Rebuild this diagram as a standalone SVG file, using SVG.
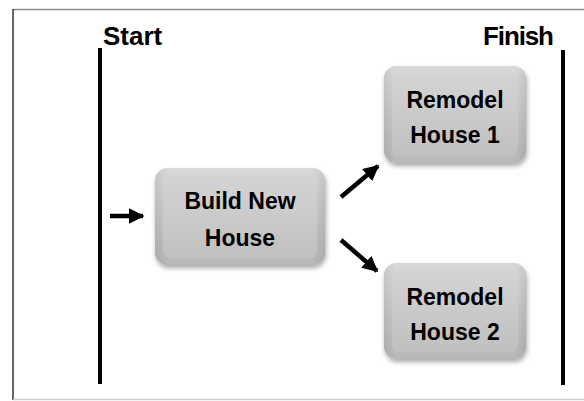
<svg xmlns="http://www.w3.org/2000/svg" width="584" height="401" viewBox="0 0 584 401">
  <defs>
    <linearGradient id="boxFill" x1="0" y1="0" x2="0" y2="1">
      <stop offset="0" stop-color="#e2e2e2"/>
      <stop offset="0.5" stop-color="#c6c6c6"/>
      <stop offset="1" stop-color="#acacac"/>
    </linearGradient>
    <linearGradient id="bevel" x1="0" y1="0" x2="1" y2="0">
      <stop offset="0" stop-color="#a6a6a6"/>
      <stop offset="0.08" stop-color="#cbcbcb"/>
      <stop offset="0.92" stop-color="#cbcbcb"/>
      <stop offset="1" stop-color="#a2a2a2"/>
    </linearGradient>
    <linearGradient id="face" x1="0" y1="0" x2="0" y2="1">
      <stop offset="0" stop-color="#d4d4d4"/>
      <stop offset="1" stop-color="#c0c0c0"/>
    </linearGradient>
    <filter id="shadow" x="-10%" y="-10%" width="125%" height="130%">
      <feDropShadow dx="1" dy="3" stdDeviation="2.5" flood-color="#000" flood-opacity="0.35"/>
    </filter>
    <marker id="head" viewBox="0 0 10 10" refX="9" refY="5" markerWidth="3.5" markerHeight="3.5" orient="auto" markerUnits="strokeWidth">
      <path d="M0,0 L10,5 L0,10 Z" fill="#000"/>
    </marker>
  </defs>
  <style>
    .lbl { font-family: "Liberation Sans", Arial, sans-serif; font-weight: bold; fill: #000; }
    .node-text { font-size: 23px; text-anchor: middle; }
    .title { font-size: 26px; }
    .bar { stroke: #000; stroke-width: 4; }
    .conn { stroke: #000; stroke-width: 4.5; fill: none; marker-end: url(#head); }
  </style>

  <!-- frame -->
  <rect x="0" y="0" width="584" height="401" fill="#fff"/>
  <line x1="13" y1="9.5" x2="584" y2="9.5" stroke="#8a8a8a" stroke-width="1.5"/>
  <line x1="13" y1="9" x2="13" y2="400" stroke="#333" stroke-width="1.5"/>
  <line x1="13" y1="399.5" x2="584" y2="399.5" stroke="#cfcfcf" stroke-width="1.5"/>

  <!-- start / finish bars -->
  <g id="start">
    <text class="lbl title" x="103" y="45">Start</text>
    <line class="bar" x1="100" y1="48" x2="100" y2="384"/>
  </g>
  <g id="finish">
    <text class="lbl title" x="483" y="45" textLength="71">Finish</text>
    <line class="bar" x1="563" y1="50" x2="563" y2="385"/>
  </g>

  <!-- connectors -->
  <g id="connectors">
    <line class="conn" x1="110" y1="216" x2="143" y2="216"/>
    <line class="conn" x1="341" y1="197" x2="378" y2="166"/>
    <line class="conn" x1="341" y1="240" x2="377" y2="271"/>
  </g>

  <!-- nodes -->
  <g id="build-new-house">
    <rect x="155" y="168" width="170" height="97" rx="13" fill="url(#bevel)" filter="url(#shadow)"/>
    <rect x="155" y="168" width="170" height="97" rx="13" fill="url(#boxFill)" opacity="0.6"/>
    <rect x="163" y="175" width="154" height="83" rx="8" fill="url(#face)"/>
    <text class="lbl node-text" x="240" y="209">Build New</text>
    <text class="lbl node-text" x="240" y="246">House</text>
  </g>

  <g id="remodel-house-1">
    <rect x="384" y="66" width="142" height="97" rx="13" fill="url(#bevel)" filter="url(#shadow)"/>
    <rect x="384" y="66" width="142" height="97" rx="13" fill="url(#boxFill)" opacity="0.6"/>
    <rect x="392" y="73" width="126" height="83" rx="8" fill="url(#face)"/>
    <text class="lbl node-text" x="455" y="108">Remodel</text>
    <text class="lbl node-text" x="455" y="143">House 1</text>
  </g>

  <g id="remodel-house-2">
    <rect x="384" y="263" width="142" height="96" rx="13" fill="url(#bevel)" filter="url(#shadow)"/>
    <rect x="384" y="263" width="142" height="96" rx="13" fill="url(#boxFill)" opacity="0.6"/>
    <rect x="392" y="270" width="126" height="82" rx="8" fill="url(#face)"/>
    <text class="lbl node-text" x="455" y="305">Remodel</text>
    <text class="lbl node-text" x="455" y="340">House 2</text>
  </g>
</svg>
